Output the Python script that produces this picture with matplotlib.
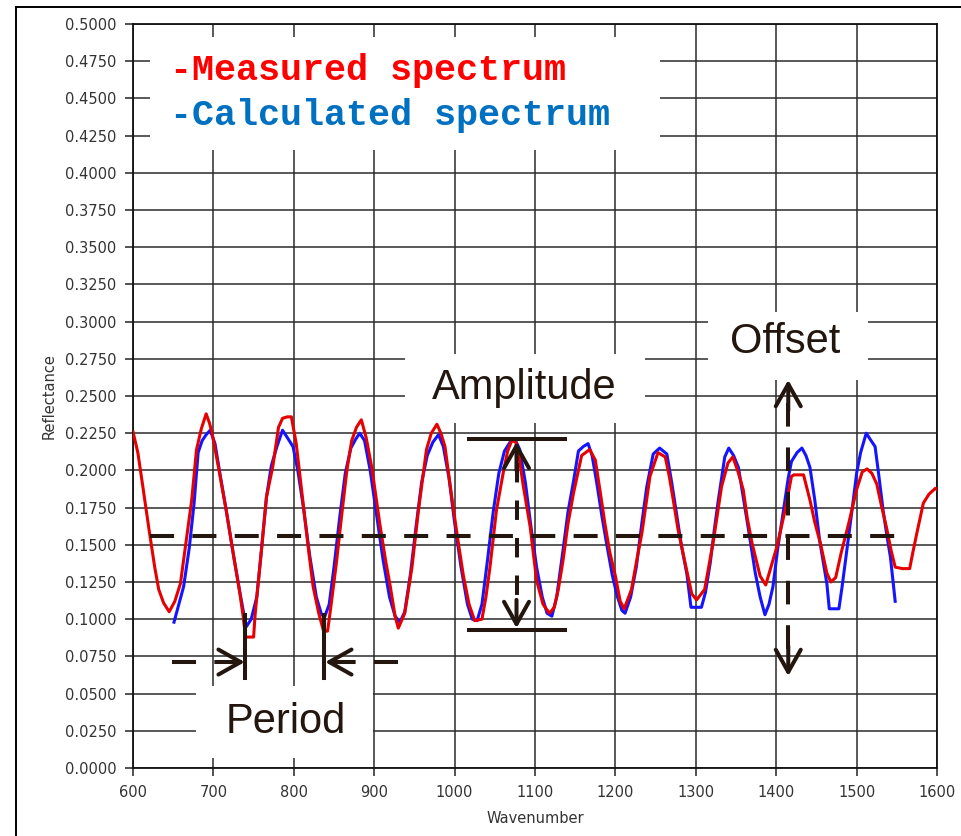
import numpy as np
import matplotlib.pyplot as plt
from matplotlib.patches import Rectangle
from matplotlib.lines import Line2D
from matplotlib.ticker import FormatStrFormatter

plt.rcParams['lines.scale_dashes'] = False

# measured reflectance spectrum
measured_x = [600, 606, 612, 620, 627, 632, 638, 645, 652, 659, 666, 673, 679, 685, 691,
              695, 698, 707, 716, 725, 733, 737, 740, 750, 752, 759, 766, 774, 781, 786,
              792, 797, 803, 812, 818, 824, 831, 837, 842, 846, 853, 860, 866, 872, 878,
              884, 890, 897, 907, 914, 920, 926, 930, 938, 947, 955, 965, 971, 978, 983,
              988, 998, 1005, 1011, 1018, 1025, 1034, 1039, 1044, 1052, 1061, 1066, 1071,
              1076, 1080, 1085, 1094, 1102, 1110, 1118, 1124, 1129, 1135, 1141, 1148, 1158,
              1168, 1175, 1181, 1187, 1193, 1200, 1206, 1211, 1220, 1226, 1233, 1243, 1253,
              1262, 1267, 1272, 1278, 1285, 1295, 1301, 1311, 1316, 1322, 1332, 1340, 1346,
              1352, 1359, 1364, 1370, 1380, 1387, 1394, 1401, 1411, 1419, 1422, 1434, 1442,
              1448, 1455, 1463, 1468, 1474, 1481, 1490, 1500, 1507, 1513, 1519, 1525, 1531,
              1537, 1543, 1548, 1557, 1566, 1570, 1575, 1583, 1590, 1598, 1600]
measured_y = [0.226, 0.212, 0.190, 0.160, 0.135, 0.120, 0.111, 0.105, 0.112, 0.124, 0.152,
              0.180, 0.214, 0.228, 0.238, 0.232, 0.226, 0.200, 0.173, 0.143, 0.117, 0.102,
              0.088, 0.088, 0.104, 0.142, 0.182, 0.203, 0.229, 0.235, 0.236, 0.236, 0.218,
              0.176, 0.148, 0.122, 0.104, 0.092, 0.092, 0.108, 0.138, 0.172, 0.200, 0.220,
              0.229, 0.234, 0.222, 0.202, 0.164, 0.140, 0.122, 0.102, 0.094, 0.104, 0.135,
              0.173, 0.214, 0.225, 0.231, 0.225, 0.216, 0.176, 0.150, 0.129, 0.110, 0.099,
              0.100, 0.115, 0.135, 0.173, 0.200, 0.213, 0.220, 0.219, 0.210, 0.191, 0.162,
              0.126, 0.110, 0.104, 0.108, 0.120, 0.140, 0.164, 0.185, 0.210, 0.214, 0.207,
              0.186, 0.164, 0.145, 0.129, 0.112, 0.107, 0.120, 0.138, 0.158, 0.196, 0.212,
              0.209, 0.196, 0.180, 0.160, 0.142, 0.117, 0.113, 0.120, 0.135, 0.153, 0.189,
              0.205, 0.209, 0.200, 0.187, 0.168, 0.151, 0.129, 0.123, 0.136, 0.149, 0.173,
              0.196, 0.197, 0.197, 0.180, 0.165, 0.151, 0.131, 0.125, 0.128, 0.145, 0.164,
              0.187, 0.199, 0.201, 0.198, 0.191, 0.176, 0.162, 0.146, 0.135, 0.134, 0.134,
              0.145, 0.158, 0.178, 0.184, 0.188, 0.187]

# fitted (calculated) spectrum
calculated_x = [651, 656, 663, 670, 676, 681, 686, 691, 696, 702, 709, 716, 725, 733, 738,
                741, 747, 754, 760, 766, 772, 779, 786, 792, 799, 805, 812, 820, 828, 834,
                838, 844, 850, 857, 864, 871, 877, 882, 888, 895, 903, 911, 919, 926, 932,
                938, 945, 952, 959, 966, 973, 980, 986, 993, 1000, 1008, 1016, 1022, 1028,
                1034, 1041, 1048, 1055, 1062, 1069, 1075, 1081, 1088, 1095, 1102, 1109, 1115,
                1121, 1127, 1135, 1141, 1148, 1154, 1160, 1166, 1171, 1177, 1183, 1189, 1196,
                1202, 1208, 1212, 1219, 1226, 1233, 1239, 1247, 1255, 1264, 1270, 1276, 1282,
                1289, 1294, 1307, 1312, 1318, 1323, 1328, 1336, 1341, 1347, 1353, 1359, 1365,
                1374, 1380, 1386, 1391, 1396, 1402, 1409, 1415, 1419, 1426, 1432, 1437, 1442,
                1448, 1454, 1459, 1463, 1466, 1478, 1482, 1488, 1494, 1500, 1505, 1512, 1518,
                1523, 1528, 1533, 1538, 1542, 1546, 1548]
calculated_y = [0.098, 0.108, 0.122, 0.148, 0.178, 0.212, 0.220, 0.224, 0.227, 0.218, 0.195,
                0.173, 0.143, 0.118, 0.103, 0.095, 0.100, 0.115, 0.148, 0.182, 0.203, 0.216,
                0.227, 0.222, 0.216, 0.200, 0.175, 0.142, 0.115, 0.104, 0.101, 0.110, 0.135,
                0.168, 0.198, 0.215, 0.221, 0.225, 0.220, 0.200, 0.170, 0.140, 0.115, 0.102,
                0.098, 0.105, 0.130, 0.162, 0.192, 0.210, 0.219, 0.224, 0.216, 0.195, 0.165,
                0.135, 0.110, 0.100, 0.099, 0.110, 0.140, 0.172, 0.198, 0.213, 0.219, 0.221,
                0.214, 0.192, 0.162, 0.135, 0.115, 0.104, 0.102, 0.115, 0.147, 0.172, 0.193,
                0.213, 0.216, 0.218, 0.210, 0.191, 0.170, 0.151, 0.130, 0.116, 0.106, 0.104,
                0.115, 0.135, 0.165, 0.189, 0.211, 0.215, 0.211, 0.192, 0.171, 0.150, 0.130,
                0.108, 0.108, 0.118, 0.138, 0.160, 0.180, 0.209, 0.215, 0.210, 0.202, 0.182,
                0.162, 0.131, 0.115, 0.103, 0.110, 0.122, 0.148, 0.173, 0.195, 0.206, 0.212,
                0.215, 0.210, 0.202, 0.180, 0.153, 0.137, 0.124, 0.107, 0.107, 0.122, 0.147,
                0.172, 0.198, 0.212, 0.225, 0.220, 0.216, 0.195, 0.173, 0.155, 0.142, 0.122,
                0.112]

x_ticks = np.arange(600, 1601, 100)
y_ticks = np.arange(0, 0.5001, 0.025)

ink = '#22160e'
dash = (0, (17.3, 13.2))

fig = plt.figure(figsize=(9.61, 8.36), dpi=100)
ax = fig.add_axes([133 / 961, 68 / 836, 804 / 961, 744 / 836])

ax.set_xlim(600, 1600)
ax.set_ylim(0, 0.5)
ax.set_xticks(x_ticks)
ax.set_yticks(y_ticks)
ax.yaxis.set_major_formatter(FormatStrFormatter('%.4f'))
ax.grid(True, color='#2b2b2b', lw=1.1)
ax.set_axisbelow(True)
for s in ax.spines.values():
    s.set_color('#111111')
    s.set_linewidth(1.3)
ax.tick_params(length=6, width=1.2, color='#333333', labelcolor='#333333',
               labelsize=10.5, pad=6)
ax.set_ylabel('Reflectance', fontsize=10.5, color='#333333', labelpad=6)
ax.set_xlabel('Wavenumber', fontsize=10.5, color='#333333', labelpad=8)

# white patches behind the text so the grid is cut
boxes = [(621, 0.4153, 634, 0.076),
         (938, 0.2319, 299, 0.0463),
         (1315, 0.2608, 199, 0.0457),
         (678, 0.0067, 220, 0.0484)]
for bx, by, bw, bh in boxes:
    ax.add_patch(Rectangle((bx, by), bw, bh, facecolor='white', edgecolor='none', zorder=1.5))

ax.plot(calculated_x, calculated_y, color='#1414ff', lw=2.2, zorder=3)
ax.plot(measured_x, measured_y, color='#e60000', lw=2.2, zorder=3)

ax.text(646, 0.469, '-Measured spectrum', family='Liberation Mono', weight='bold',
        fontsize=26.5, color='#ff0000', va='center', ha='left', zorder=5)
ax.text(646, 0.4388, '-Calculated spectrum', family='Liberation Mono', weight='bold',
        fontsize=26.5, color='#0070c0', va='center', ha='left', zorder=5)

def arrow_head(tip, tail):
    ax.annotate('', xy=tip, xytext=tail, zorder=5,
                arrowprops=dict(arrowstyle='->,head_length=0.8,head_width=0.45',
                                lw=2.9, color=ink, mutation_scale=20,
                                shrinkA=0, shrinkB=0))

# offset level
ax.plot([621, 1554], [0.156, 0.156], color=ink, lw=2.9, ls=dash, zorder=4)

# amplitude
ax.plot([1018, 1137], [0.2209, 0.2209], color=ink, lw=2.9, zorder=4)
ax.plot([1018, 1137], [0.0927, 0.0927], color=ink, lw=2.9, zorder=4)
ax.plot([1077, 1077], [0.205, 0.105], color=ink, lw=2.9, ls=(0, (14, 13)), zorder=4)
arrow_head((1077, 0.2192), (1077, 0.200))
arrow_head((1077, 0.094), (1077, 0.113))
ax.text(1086, 0.2554, 'Amplitude', family='Liberation Sans', fontsize=30,
        color=ink, ha='center', va='center', zorder=5)

# offset
ax.plot([1415, 1415], [0.245, 0.075], color=ink, lw=2.9, ls=(0, (17, 15)), zorder=4)
arrow_head((1415, 0.2608), (1415, 0.240))
arrow_head((1415, 0.0618), (1415, 0.082))
ax.text(1411, 0.2863, 'Offset', family='Liberation Sans', fontsize=30,
        color=ink, ha='center', va='center', zorder=5)

# period
ax.plot([739.3, 739.3], [0.1028, 0.0605], color=ink, lw=2.9, zorder=4)
ax.plot([837.9, 837.9], [0.1028, 0.0605], color=ink, lw=2.9, zorder=4)
ax.plot([648.5, 730], [0.0712, 0.0712], color=ink, lw=2.9, ls=dash, zorder=4)
ax.plot([929.5, 848], [0.0712, 0.0712], color=ink, lw=2.9, ls=dash, zorder=4)
arrow_head((739, 0.0712), (720, 0.0712))
arrow_head((839, 0.0712), (858, 0.0712))
ax.text(790, 0.0309, 'Period', family='Liberation Sans', fontsize=30,
        color=ink, ha='center', va='center', zorder=5)

# frame lines of the window
fig.add_artist(Line2D([16 / 961, 16 / 961], [0, 1 - 7 / 836], color='black', lw=1.4))
fig.add_artist(Line2D([16 / 961, 1], [1 - 7 / 836, 1 - 7 / 836], color='black', lw=1.4))

fig.savefig('out.png', dpi=100, facecolor='white')
